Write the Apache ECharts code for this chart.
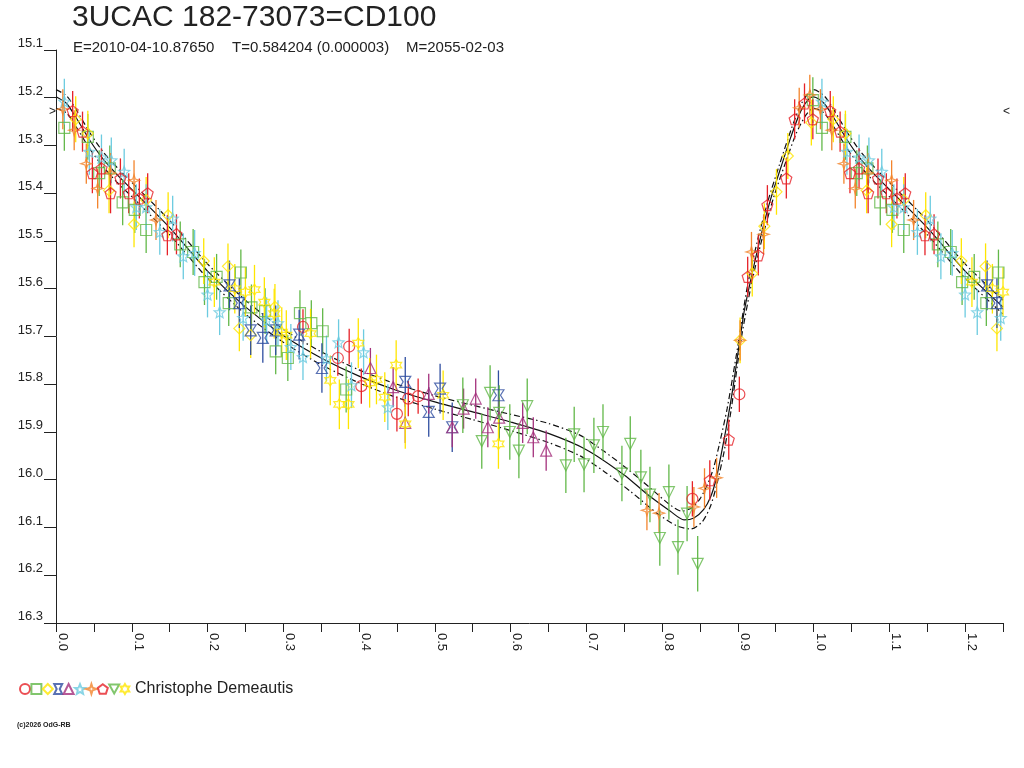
<!DOCTYPE html>
<html>
<head>
<meta charset="utf-8">
<title>3UCAC 182-73073=CD100</title>
<script src="https://cdn.jsdelivr.net/npm/echarts@6/dist/echarts.min.js"></script>
<style>
  html, body { margin: 0; padding: 0; background: #fff; }
  #main { width: 1024px; height: 768px; }
</style>
</head>
<body>
<div id="main"></div>
<script>
// observations, [phase, magnitude], phase 0..1 (phases <= 0.25 are repeated at +1)
var redCircle = [
  [0.326, 15.680], [0.387, 15.721], [0.372, 15.745], [0.403, 15.804], [0.465, 15.830],
  [0.478, 15.825], [0.450, 15.862], [0.902, 15.821], [0.840, 16.040]
];
var greenSquare = [
  [0.011, 15.263], [0.042, 15.282], [0.057, 15.358], [0.071, 15.348], [0.088, 15.419],
  [0.104, 15.435], [0.119, 15.477], [0.164, 15.507], [0.181, 15.523], [0.244, 15.566],
  [0.212, 15.575], [0.196, 15.586], [0.228, 15.630], [0.258, 15.639], [0.276, 15.647],
  [0.290, 15.731], [0.306, 15.745], [0.322, 15.651], [0.337, 15.672], [0.352, 15.689],
  [0.383, 15.811], [0.999, 15.205]
];
var yellowDiamond = [
  [0.026, 15.245], [0.042, 15.275], [0.070, 15.394], [0.119, 15.414], [0.103, 15.465],
  [0.148, 15.446], [0.195, 15.542], [0.227, 15.553], [0.289, 15.638], [0.242, 15.683],
  [0.257, 15.697], [0.997, 15.252], [0.919, 15.568], [0.935, 15.469], [0.951, 15.397],
  [0.966, 15.322], [0.903, 15.708]
];
var blueBowtie = [
  [0.229, 15.593], [0.242, 15.630], [0.257, 15.687], [0.273, 15.703], [0.290, 15.687],
  [0.321, 15.696], [0.351, 15.766], [0.461, 15.795], [0.492, 15.858], [0.507, 15.809],
  [0.523, 15.890], [0.584, 15.823]
];
var purpleTriangle = [
  [0.415, 15.766], [0.445, 15.806], [0.461, 15.881], [0.492, 15.820], [0.538, 15.851],
  [0.523, 15.890], [0.554, 15.830], [0.585, 15.870], [0.570, 15.890], [0.616, 15.881],
  [0.630, 15.911], [0.647, 15.939]
];
var cyanStar = [
  [0.011, 15.208], [0.044, 15.313], [0.060, 15.325], [0.073, 15.331], [0.090, 15.355],
  [0.106, 15.429], [0.119, 15.429], [0.154, 15.453], [0.137, 15.481], [0.168, 15.532],
  [0.183, 15.525], [0.200, 15.612], [0.216, 15.649], [0.247, 15.661], [0.278, 15.666],
  [0.293, 15.672], [0.310, 15.722], [0.326, 15.743], [0.373, 15.712], [0.406, 15.733],
  [0.357, 15.746], [0.390, 15.802], [0.438, 15.848]
];
var orangeStar = [
  [0.009, 15.224], [0.024, 15.268], [0.040, 15.338], [0.055, 15.390], [0.072, 15.358],
  [0.103, 15.373], [0.132, 15.456], [0.780, 16.064], [0.796, 16.070], [0.842, 16.057],
  [0.856, 16.018], [0.872, 15.996], [0.903, 15.708], [0.918, 15.523], [0.934, 15.486],
  [0.981, 15.221], [0.995, 15.194]
];
var redPentagon = [
  [0.022, 15.228], [0.035, 15.271], [0.048, 15.358], [0.060, 15.348], [0.072, 15.400],
  [0.085, 15.369], [0.096, 15.400], [0.110, 15.411], [0.121, 15.400], [0.147, 15.488],
  [0.159, 15.486], [0.888, 15.916], [0.863, 16.001], [0.913, 15.575], [0.927, 15.530],
  [0.939, 15.425], [0.964, 15.369], [0.975, 15.245], [0.988, 15.212], [0.999, 15.245]
];
var greenTriDown = [
  [0.537, 15.844], [0.573, 15.818], [0.585, 15.860], [0.562, 15.919], [0.599, 15.900],
  [0.622, 15.846], [0.611, 15.939], [0.684, 15.905], [0.673, 15.970], [0.697, 15.968],
  [0.710, 15.928], [0.722, 15.900], [0.747, 15.987], [0.758, 15.925], [0.772, 15.995],
  [0.784, 16.031], [0.809, 16.026], [0.797, 16.122], [0.821, 16.141], [0.847, 16.176],
  [0.833, 16.071]
];
var yellowStar = [
  [0.209, 15.586], [0.236, 15.600], [0.250, 15.607], [0.262, 15.602], [0.275, 15.628],
  [0.288, 15.652], [0.298, 15.691], [0.304, 15.697], [0.336, 15.694], [0.399, 15.714],
  [0.362, 15.792], [0.414, 15.797], [0.423, 15.790], [0.449, 15.760], [0.374, 15.842],
  [0.386, 15.842], [0.434, 15.827], [0.461, 15.883], [0.511, 15.823], [0.584, 15.925]
];

// typical error bar half length of each observer/filter, magnitudes
var errBars = [0.037, 0.048, 0.048, 0.052, 0.042, 0.048, 0.042, 0.042, 0.058, 0.052];

// fitted light curve and its bounds, [phase, magnitude]
var fitMid = [
  [0.000, 15.198], [0.014, 15.212], [0.027, 15.243], [0.045, 15.290], [0.062, 15.328],
  [0.080, 15.360], [0.100, 15.392], [0.150, 15.472], [0.200, 15.563], [0.250, 15.638],
  [0.300, 15.698], [0.350, 15.745], [0.400, 15.783], [0.450, 15.813], [0.500, 15.837],
  [0.550, 15.858], [0.600, 15.879], [0.650, 15.903], [0.700, 15.937], [0.750, 15.990],
  [0.780, 16.030], [0.811, 16.066], [0.829, 16.084], [0.842, 16.080], [0.855, 16.062],
  [0.864, 16.036], [0.871, 16.001], [0.877, 15.955], [0.884, 15.897], [0.893, 15.813],
  [0.908, 15.651], [0.917, 15.582], [0.930, 15.492], [0.943, 15.414], [0.957, 15.345],
  [0.970, 15.282], [0.983, 15.228], [0.994, 15.202]
];
var fitUpper = [
  [0.000, 15.183], [0.014, 15.196], [0.027, 15.226], [0.045, 15.274], [0.062, 15.313],
  [0.080, 15.345], [0.100, 15.377], [0.150, 15.457], [0.200, 15.548], [0.250, 15.624],
  [0.300, 15.685], [0.350, 15.732], [0.400, 15.770], [0.450, 15.800], [0.500, 15.824],
  [0.550, 15.844], [0.600, 15.863], [0.650, 15.882], [0.692, 15.907], [0.723, 15.940],
  [0.754, 15.977], [0.785, 16.018], [0.810, 16.052], [0.826, 16.066], [0.840, 16.058],
  [0.850, 16.040], [0.860, 16.010], [0.868, 15.975], [0.875, 15.930], [0.886, 15.850],
  [0.900, 15.720], [0.912, 15.600], [0.925, 15.505], [0.940, 15.415], [0.955, 15.340],
  [0.970, 15.268], [0.983, 15.215], [0.994, 15.188]
];
var fitLower = [
  [0.000, 15.222], [0.014, 15.232], [0.027, 15.262], [0.045, 15.308], [0.062, 15.344],
  [0.080, 15.376], [0.100, 15.407], [0.150, 15.487], [0.200, 15.578], [0.250, 15.653],
  [0.300, 15.712], [0.350, 15.759], [0.400, 15.797], [0.450, 15.828], [0.500, 15.852],
  [0.550, 15.874], [0.600, 15.897], [0.650, 15.922], [0.692, 15.950], [0.723, 15.982],
  [0.758, 16.024], [0.794, 16.071], [0.820, 16.097], [0.838, 16.103], [0.853, 16.088],
  [0.864, 16.055], [0.873, 16.005], [0.882, 15.940], [0.891, 15.855], [0.905, 15.700],
  [0.918, 15.590], [0.932, 15.495], [0.947, 15.410], [0.962, 15.340], [0.977, 15.275],
  [0.990, 15.236]
];

var titleText = '3UCAC 182-73073=CD100';
var subParts = ['E=2010-04-10.87650', 'T=0.584204 (0.000003)', 'M=2055-02-03'];
var observerName = 'Christophe Demeautis';

var FONT = '"Liberation Sans", Arial, sans-serif';
var INK = '#222';

// phase plots show phases 0..0.25 a second time after 1
function wrapPhase(points) {
  var out = points.slice();
  points.forEach(function (p) {
    if (p[0] <= 0.25) out.push([p[0] + 1, p[1]]);
  });
  return out.sort(function (a, b) { return a[0] - b[0]; });
}

var observers = [
  { data: redCircle,      color: '#e62228', symbol: 'circle' },
  { data: greenSquare,    color: '#62b849', symbol: 'rect' },
  { data: yellowDiamond,  color: '#ffe600', symbol: 'diamond' },
  { data: blueBowtie,     color: '#2f4ea0', symbol: 'path://M1,0L9,0L6.5,5L9,10L1,10L3.5,5Z' },
  { data: purpleTriangle, color: '#a4307c', symbol: 'triangle' },
  { data: cyanStar,       color: '#6ccbe0', symbol: 'path://M5,0L6.29,3.22L9.76,3.46L7.09,5.68L7.94,9.05L5,7.2L2.06,9.05L2.91,5.68L0.24,3.46L3.71,3.22Z' },
  { data: orangeStar,     color: '#f3842c', symbol: 'path://M5,0L6.2,3.8L10,5L6.2,6.2L5,10L3.8,6.2L0,5L3.8,3.8Z' },
  { data: redPentagon,    color: '#e62228', symbol: 'path://M5,0L9.76,3.46L7.94,9.05L2.06,9.05L0.24,3.46Z' },
  { data: greenTriDown,   color: '#62b849', symbol: 'path://M0,0L10,0L5,9Z' },
  { data: yellowStar,     color: '#ffe600', symbol: 'path://M5,0L6.44,2.5L9.33,2.5L7.89,5L9.33,7.5L6.44,7.5L5,10L3.56,7.5L0.67,7.5L2.11,5L0.67,2.5L3.56,2.5Z' }
];

var series = [];
var legendNames = [];

[fitUpper, fitMid, fitLower].forEach(function (curve, i) {
  series.push({
    type: 'line',
    data: wrapPhase(curve),
    showSymbol: false,
    smooth: 0.25,
    silent: true,
    z: 1,
    lineStyle: { color: '#111', width: 1.2, type: i === 1 ? 'solid' : [6, 3, 1.5, 3] }
  });
});

observers.forEach(function (o, i) {
  var err = errBars[i];
  series.push({
    type: 'custom',
    name: 'err' + i,
    data: wrapPhase(o.data),
    silent: true,
    z: 2,
    renderItem: function (params, api) {
      var x = api.value(0), y = api.value(1);
      var a = api.coord([x, y - err]);
      var b = api.coord([x, y + err]);
      return {
        type: 'line',
        shape: { x1: a[0], y1: a[1], x2: b[0], y2: b[1] },
        style: { stroke: o.color, lineWidth: 1.3 }
      };
    }
  });
});

observers.forEach(function (o, i) {
  var name = 'obs' + i;
  legendNames.push(name);
  series.push({
    type: 'scatter',
    name: name,
    data: wrapPhase(o.data),
    symbol: o.symbol,
    symbolSize: 11,
    z: 3,
    itemStyle: { color: 'rgba(0,0,0,0)', borderColor: o.color, borderWidth: 1.2 }
  });
});

var chart = echarts.init(document.getElementById('main'));
var option = {
  animation: false,
  backgroundColor: '#fff',
  textStyle: { fontFamily: FONT },
  grid: { left: 56, right: 21, top: 50, bottom: 145 },
  xAxis: {
    type: 'value',
    min: 0,
    max: 1.25,
    interval: 0.05,
    axisLine: { lineStyle: { color: INK, width: 1 } },
    axisTick: { length: 9, lineStyle: { color: INK, width: 1 } },
    splitLine: { show: false },
    axisLabel: {
      rotate: -90,
      margin: 10,
      verticalAlign: 'bottom',
      color: INK,
      fontSize: 13,
      fontFamily: FONT,
      formatter: function (v) {
        var k = Math.round(v * 100);
        return k % 10 === 0 ? (k / 100).toFixed(1) : '';
      }
    }
  },
  yAxis: {
    type: 'value',
    inverse: true,
    min: 15.1,
    max: 16.3,
    interval: 0.1,
    axisLine: { show: true, lineStyle: { color: INK, width: 1 } },
    axisTick: { show: true, length: 12, lineStyle: { color: INK, width: 1 } },
    splitLine: { show: false },
    axisLabel: {
      margin: 13,
      verticalAlign: 'bottom',
      color: INK,
      fontSize: 13,
      fontFamily: FONT,
      formatter: function (v) { return v.toFixed(1); }
    }
  },
  legend: {
    data: legendNames,
    left: 14,
    top: 676,
    itemWidth: 10,
    itemHeight: 10,
    itemGap: -0.6,
    textStyle: { color: INK, fontSize: 16, fontFamily: FONT },
    formatter: function (name) {
      return name === legendNames[legendNames.length - 1] ? observerName : '';
    }
  },
  graphic: [
    { type: 'text', left: 72, top: 3, style: { text: titleText, fill: INK, font: '30px ' + FONT } },
    { type: 'text', left: 73, top: 40, style: { text: subParts[0], fill: INK, font: '15px ' + FONT } },
    { type: 'text', left: 232, top: 40, style: { text: subParts[1], fill: INK, font: '15px ' + FONT } },
    { type: 'text', left: 406, top: 40, style: { text: subParts[2], fill: INK, font: '15px ' + FONT } },
    { type: 'text', left: 49, top: 106, style: { text: '>', fill: INK, font: '12px ' + FONT } },
    { type: 'text', left: 1003, top: 106, style: { text: '<', fill: INK, font: '12px ' + FONT } },
    { type: 'text', left: 17, top: 722, style: { text: '(c)2026 OdG-RB', fill: INK, font: 'bold 7px ' + FONT } }
  ],
  series: series
};
chart.setOption(option);
</script>
</body>
</html>
